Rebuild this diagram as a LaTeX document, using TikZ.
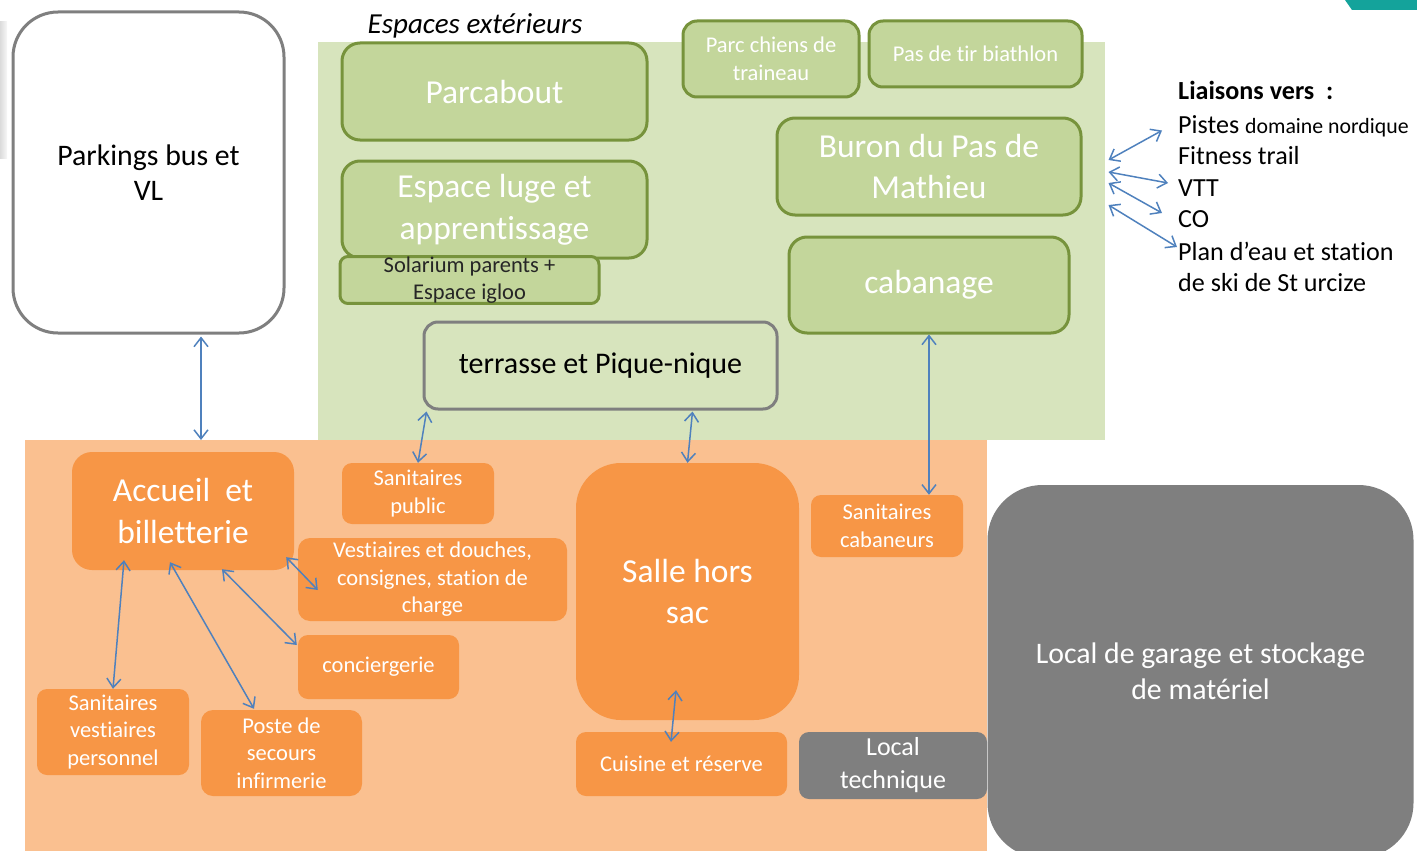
\documentclass[tikz,border=0pt]{standalone}
\usepackage{fontspec}
\setmainfont{Carlito}[Ligatures=NoCommon]
\usetikzlibrary{arrows.meta}

\definecolor{vertfond}{HTML}{D7E4BD}
\definecolor{vertbloc}{HTML}{C3D69B}
\definecolor{vertbord}{HTML}{77933C}
\definecolor{orangefond}{HTML}{FAC090}
\definecolor{orangebloc}{HTML}{F79646}
\definecolor{grisbloc}{HTML}{7F7F7F}
\definecolor{bleulien}{HTML}{4F81BD}
\definecolor{sarcelle}{HTML}{14A39B}

\tikzset{
  bloc/.style={rectangle, inner sep=0pt, align=center},
  vert/.style={bloc, fill=vertbloc, draw=vertbord, line width=3pt, text=white},
  orange/.style={bloc, fill=orangebloc, text=white},
  gris/.style={bloc, fill=grisbloc, text=white},
  grand/.style={font=\fontsize{33.5}{41.5}\selectfont},
  moyen/.style={font=\fontsize{29.8}{35.5}\selectfont},
  petit/.style={font=\fontsize{22.5}{27.5}\selectfont},
  liste/.style={anchor=base west, inner sep=0pt, text height=18pt, text depth=6pt,
    font=\fontsize{26.1}{32}\selectfont},
}

\begin{document}
\begin{tikzpicture}[x=1pt, y=-1pt, >={Straight Barb[length=9pt,width=14pt]}]
\useasboundingbox (0,0) rectangle (1417,851);

% fonds
\shade[left color=gray!28, right color=gray!6] (0,22) rectangle (7,158);
\fill[sarcelle] (1345,0) -- (1417,0) -- (1417,10) -- (1352,10) -- cycle;
\fill[vertfond]   (318,42) rectangle (1105,440);
\fill[orangefond] (25,440) rectangle (987,851);
\node[font=\fontsize{29}{34}\itshape] (exterieur) at (475,26) {Espaces extérieurs};

% parkings
\node[bloc, fill=white, draw=grisbloc, line width=3pt, rounded corners=45pt,
      minimum width=271pt, minimum height=321pt, moyen] (parking) at (148.5,172.5) {Parkings bus et\\VL};

% espaces exterieurs
\node[vert, rounded corners=18pt, minimum width=305pt, minimum height=97pt, grand] (parcabout) at (494.5,91.5) {Parcabout};
\node[vert, rounded corners=18pt, minimum width=305pt, minimum height=97pt, grand] (luge) at (494.5,209.5) {Espace luge et\\apprentissage};
\node[vert, rounded corners=8pt, minimum width=259pt, minimum height=44pt, petit, text=black!85] (solarium) at (469.5,280) {Solarium parents +\\Espace igloo};
\node[vert, rounded corners=14pt, minimum width=176pt, minimum height=76pt, petit] (chiens) at (771,59) {Parc chiens de\\traineau};
\node[vert, rounded corners=14pt, minimum width=213pt, minimum height=66pt, petit] (biathlon) at (975.5,54) {Pas de tir biathlon};
\node[vert, rounded corners=18pt, minimum width=304pt, minimum height=97pt, grand] (buron) at (929,166.5) {Buron du Pas de\\Mathieu};
\node[vert, rounded corners=18pt, minimum width=280pt, minimum height=96pt, grand] (cabanage) at (929,285) {cabanage};
\node[bloc, fill=vertfond, draw=grisbloc, line width=3pt, rounded corners=14pt,
      minimum width=353pt, minimum height=87pt, font=\fontsize{30}{36}\selectfont] (terrasse) at (600.5,365.5) {terrasse et Pique-nique};

% batiment
\node[orange, rounded corners=20pt, minimum width=222pt, minimum height=118pt, grand] (accueil) at (183,511) {Accueil~ et\\billetterie};
\node[orange, rounded corners=10pt, minimum width=152pt, minimum height=61pt, petit] (sanpublic) at (418,493.5) {Sanitaires\\public};
\node[orange, rounded corners=12pt, minimum width=269pt, minimum height=83pt, petit] (vestiaires) at (432.5,579.5) {Vestiaires et douches,\\consignes, station de\\charge};
\node[orange, rounded corners=10pt, minimum width=161pt, minimum height=64pt, petit] (concierge) at (378.5,667) {conciergerie};
\node[orange, rounded corners=10pt, minimum width=152pt, minimum height=86pt, petit] (sanvest) at (113,732) {Sanitaires\\vestiaires\\personnel};
\node[orange, rounded corners=12pt, minimum width=161pt, minimum height=86pt, petit] (poste) at (281.5,753) {Poste de\\secours\\infirmerie};
\node[orange, rounded corners=45pt, minimum width=223pt, minimum height=257pt, grand] (salle) at (687.5,591.5) {Salle hors\\sac};
\node[orange, rounded corners=10pt, minimum width=152pt, minimum height=62pt, petit] (sancab) at (887,526) {Sanitaires\\cabaneurs};
\node[orange, rounded corners=10pt, minimum width=211pt, minimum height=64pt, petit] (cuisine) at (681.5,764) {Cuisine et réserve};
\node[gris, rounded corners=10pt, minimum width=188pt, minimum height=67pt, font=\fontsize{26}{33}\selectfont] (loctech) at (893,765.5) {Local\\technique};
\node[gris, rounded corners=55pt, minimum width=426pt, minimum height=373pt, moyen] (garage) at (1200.5,671.5) {Local de garage et stockage\\de matériel};

% liaisons
\node[liste, font=\fontsize{26.1}{32}\bfseries] (liaisons) at (1178,99.5) {Liaisons vers~ :};
\node[liste] (pistes)  at (1178,133.5) {Pistes {\fontsize{21.8}{28}\selectfont domaine nordique}};
\node[liste] (fitness) at (1178,164.5) {Fitness trail};
\node[liste] (vtt)     at (1178,196.5) {VTT};
\node[liste] (co)      at (1178,227.5) {CO};
\node[liste] (plan)    at (1178,260.5) {Plan d’eau et station};
\node[liste] (ski)     at (1178,291.5) {de ski de St urcize};

\coordinate (seuil) at (201,440);

\draw[<->, bleulien, line width=1.5pt]
  ([shift={(52.5,2)}]parking.south) -- (seuil);
\draw[<->, bleulien, line width=1.5pt]
  ([shift={(4,1)}]terrasse.south west) -- (sanpublic.north);
\draw[<->, bleulien, line width=1.5pt]
  ([shift={(92,1)}]terrasse.south) -- (salle.north);
\draw[<->, bleulien, line width=1.5pt]
  (cabanage.south) -- (cabanage.south |- sancab.north);
\draw[<->, bleulien, line width=1.5pt]
  ([shift={(-59,-10)}]accueil.south) -- (sanvest.north);
\draw[<->, bleulien, line width=1.5pt]
  ([shift={(-13,-8)}]accueil.south) -- ([shift={(-27.5,-1)}]poste.north);
\draw[<->, bleulien, line width=1.5pt]
  ([shift={(39,-1)}]accueil.south) -- ([shift={(-1,-22)}]concierge.west);
\draw[<->, bleulien, line width=1.5pt]
  ([shift={(-8,-13)}]accueil.south east) -- ([shift={(20,10.5)}]vestiaires.west);
\draw[<->, bleulien, line width=1.5pt]
  ([shift={(-11.5,-30)}]salle.south) -- ([shift={(-10.5,10)}]cuisine.north);

\draw[<->, bleulien, line width=1.5pt] ([shift={(26,-6.5)}]buron.east) -- ([shift={(-16,3)}]pistes.west);
\draw[<->, bleulien, line width=1.5pt] ([shift={(26,5.5)}]buron.east)  -- ([shift={(-10,-7.5)}]vtt.west);
\draw[<->, bleulien, line width=1.5pt] ([shift={(26,16.5)}]buron.east) -- ([shift={(-16,-8.5)}]co.west);
\draw[<->, bleulien, line width=1.5pt] ([shift={(26,38.5)}]buron.east) -- ([shift={(-1,-7.5)}]plan.west);
\end{tikzpicture}
\end{document}
